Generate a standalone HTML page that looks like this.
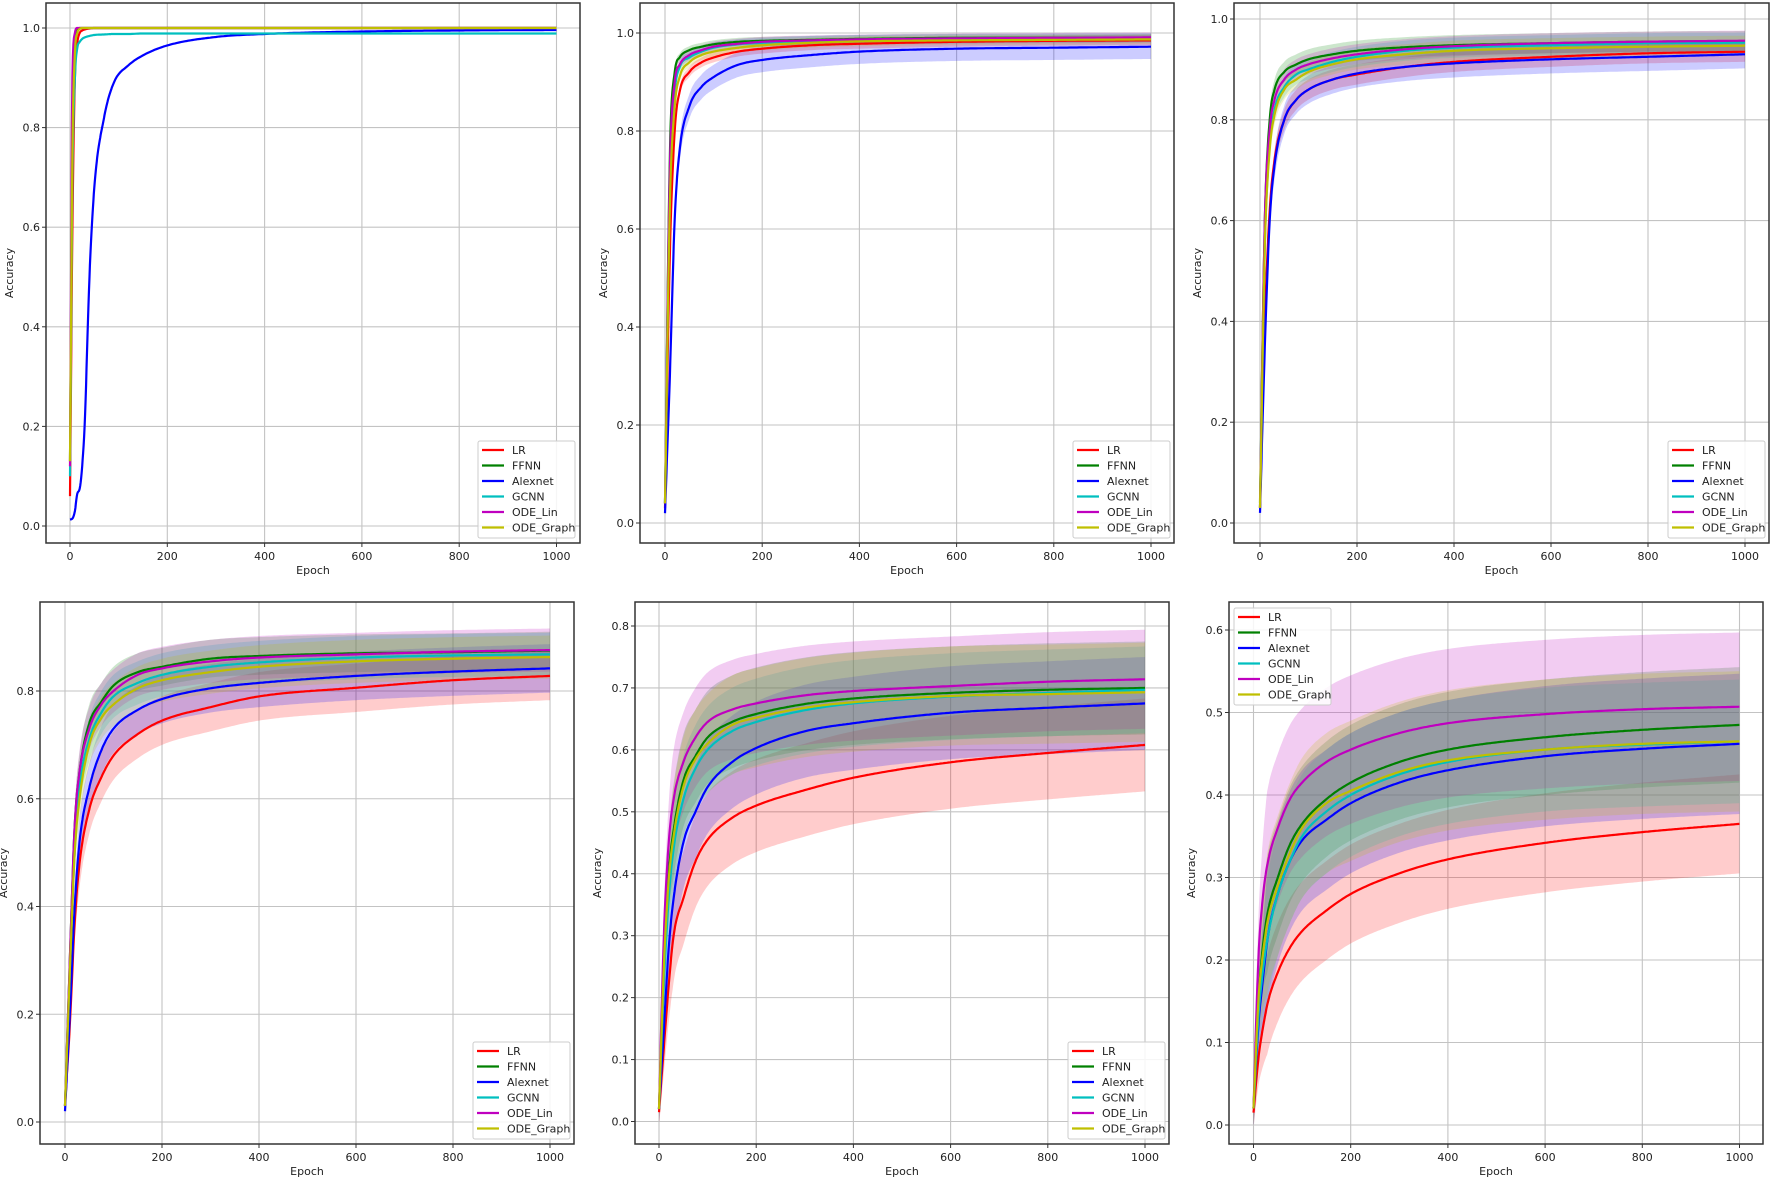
<!DOCTYPE html>
<html><head><meta charset="utf-8">
<style>
html,body{margin:0;padding:0;background:#fff;}
svg{display:block;font-family:"DejaVu Sans","Liberation Sans",sans-serif;}
</style></head>
<body>
<svg id="fig" width="1772" height="1177" viewBox="0 0 1772 1177" xmlns="http://www.w3.org/2000/svg"></svg>
<script>
// ---- data ----
const seriesNames = ["LR","FFNN","Alexnet","GCNN","ODE_Lin","ODE_Graph"];
const seriesColors = ["#ff0000","#008000","#0000ff","#00bfbf","#bf00bf","#bfbf00"];
const epochsA = [0,5,10,15,20,25,30,40,50,70,90,120,150,200,300,400,600,800,1000];
const epochsB = [0,10,20,30,50,75,100,150,200,300,400,600,800,1000];

// panel 1
const p1LR      = [0.06,0.6,0.9,0.97,0.99,0.995,0.997,0.999,1,1,1,1,1,1,1,1,1,1,1];
const p1FFNN    = [0.13,0.8,0.97,0.995,1,1,1,1,1,1,1,1,1,1,1,1,1,1,1];
const p1Alexnet = [0.013,0.015,0.03,0.065,0.075,0.12,0.2,0.5,0.68,0.82,0.89,0.925,0.945,0.965,0.982,0.988,0.993,0.995,0.996];
const p1GCNN    = [0.1,0.7,0.9,0.96,0.972,0.978,0.981,0.984,0.986,0.987,0.988,0.988,0.989,0.989,0.989,0.989,0.989,0.989,0.989];
const p1ODELin  = [0.12,0.9,0.99,1,1,1,1,1,1,1,1,1,1,1,1,1,1,1,1];
const p1ODEGraph= [0.13,0.75,0.95,0.99,0.998,1,1,1,1,1,1,1,1,1,1,1,1,1,1];

// panel 2
const p2LR      = [0.03,0.55,0.8,0.88,0.92,0.94,0.95,0.962,0.968,0.975,0.978,0.982,0.984,0.985];
const p2FFNN    = [0.04,0.75,0.92,0.95,0.965,0.972,0.977,0.982,0.984,0.986,0.988,0.99,0.99,0.99];
const p2Alexnet = [0.02,0.3,0.62,0.76,0.85,0.89,0.91,0.935,0.945,0.955,0.962,0.968,0.97,0.972];
const p2GCNN    = [0.04,0.7,0.88,0.93,0.95,0.962,0.97,0.977,0.98,0.984,0.986,0.988,0.989,0.99];
const p2ODELin  = [0.04,0.72,0.9,0.935,0.955,0.965,0.972,0.978,0.982,0.985,0.987,0.989,0.99,0.991];
const p2ODEGraph= [0.04,0.65,0.85,0.91,0.94,0.955,0.962,0.97,0.975,0.98,0.983,0.985,0.986,0.987];
const p2Std     = [0.01,0.008,0.025,0.01,0.01,0.01];

// panel 3
const p3LR      = [0.03,0.4,0.62,0.72,0.8,0.84,0.86,0.88,0.89,0.905,0.915,0.925,0.932,0.935];
const p3FFNN    = [0.04,0.6,0.8,0.86,0.895,0.91,0.92,0.93,0.937,0.944,0.948,0.952,0.955,0.956];
const p3Alexnet = [0.02,0.35,0.6,0.71,0.8,0.84,0.86,0.88,0.892,0.905,0.912,0.92,0.925,0.93];
const p3GCNN    = [0.03,0.55,0.75,0.82,0.865,0.89,0.9,0.915,0.925,0.937,0.943,0.948,0.952,0.953];
const p3ODELin  = [0.03,0.6,0.78,0.84,0.88,0.9,0.91,0.922,0.93,0.94,0.946,0.952,0.955,0.957];
const p3ODEGraph= [0.03,0.55,0.74,0.81,0.86,0.88,0.895,0.91,0.92,0.93,0.937,0.942,0.945,0.947];
const p3Std     = [0.02,0.02,0.028,0.02,0.02,0.02];

// panel 4
const p4LR      = [0.03,0.18,0.37,0.48,0.58,0.64,0.68,0.72,0.745,0.77,0.79,0.806,0.82,0.828];
const p4FFNN    = [0.03,0.3,0.55,0.65,0.74,0.78,0.81,0.835,0.845,0.86,0.865,0.87,0.872,0.875];
const p4Alexnet = [0.02,0.2,0.4,0.52,0.62,0.69,0.73,0.765,0.785,0.805,0.815,0.828,0.836,0.842];
const p4GCNN    = [0.03,0.28,0.5,0.62,0.71,0.76,0.79,0.815,0.83,0.845,0.853,0.862,0.866,0.868];
const p4ODELin  = [0.03,0.3,0.55,0.65,0.73,0.775,0.8,0.83,0.842,0.855,0.862,0.868,0.873,0.876];
const p4ODEGraph= [0.03,0.28,0.5,0.6,0.7,0.75,0.775,0.805,0.82,0.835,0.845,0.855,0.86,0.863];
const p4Std     = [0.045,0.035,0.045,0.04,0.04,0.04];

// panel 5
const p5LR      = [0.015,0.12,0.22,0.3,0.36,0.42,0.455,0.49,0.51,0.535,0.555,0.58,0.595,0.608];
const p5FFNN    = [0.02,0.25,0.4,0.47,0.55,0.59,0.62,0.645,0.658,0.674,0.683,0.692,0.697,0.7];
const p5Alexnet = [0.02,0.15,0.28,0.36,0.45,0.5,0.54,0.58,0.603,0.63,0.643,0.66,0.668,0.675];
const p5GCNN    = [0.02,0.22,0.36,0.44,0.52,0.57,0.6,0.63,0.645,0.664,0.675,0.686,0.692,0.697];
const p5ODELin  = [0.02,0.3,0.45,0.52,0.58,0.62,0.645,0.665,0.675,0.688,0.695,0.703,0.71,0.714];
const p5ODEGraph= [0.02,0.25,0.39,0.46,0.54,0.585,0.61,0.64,0.652,0.668,0.677,0.687,0.69,0.693];
const p5Std     = [0.075,0.075,0.075,0.07,0.08,0.08];

// panel 6
const p6LR      = [0.015,0.08,0.12,0.15,0.185,0.215,0.235,0.26,0.28,0.305,0.322,0.342,0.355,0.365];
const p6FFNN    = [0.02,0.15,0.22,0.26,0.3,0.34,0.365,0.395,0.415,0.44,0.455,0.47,0.479,0.485];
const p6Alexnet = [0.02,0.12,0.18,0.23,0.28,0.32,0.345,0.37,0.39,0.415,0.43,0.447,0.456,0.462];
const p6GCNN    = [0.02,0.13,0.19,0.23,0.28,0.32,0.35,0.38,0.4,0.425,0.44,0.455,0.461,0.465];
const p6ODELin  = [0.02,0.2,0.28,0.32,0.36,0.395,0.415,0.44,0.455,0.475,0.487,0.498,0.504,0.507];
const p6ODEGraph= [0.02,0.15,0.21,0.25,0.29,0.33,0.36,0.39,0.405,0.428,0.442,0.455,0.462,0.465];
const p6Std     = [0.06,0.07,0.085,0.075,0.09,0.085];

const xTicks = [0,200,400,600,800,1000];
const yTicksA = [0,0.2,0.4,0.6,0.8,1.0];
const yTicksB = [0,0.2,0.4,0.6,0.8];
const yTicksC = [0,0.1,0.2,0.3,0.4,0.5,0.6,0.7,0.8];
const yTicksD = [0,0.1,0.2,0.3,0.4,0.5,0.6];

// ---- layout (pixel geometry) ----
const panels = [
 {name:"panel-1",box:[46,3,580,543],x0:70,x1:556.5,yv0:0,yp0:526,yv1:1,yp1:28,ticks:yTicksA,dec:1,ep:epochsA,
  data:[p1LR,p1FFNN,p1Alexnet,p1GCNN,p1ODELin,p1ODEGraph],std:null,legend:[478,441],ylab:13},
 {name:"panel-2",box:[640,3,1174,543],x0:665,x1:1151,yv0:0,yp0:523,yv1:1,yp1:33,ticks:yTicksA,dec:1,ep:epochsB,
  data:[p2LR,p2FFNN,p2Alexnet,p2GCNN,p2ODELin,p2ODEGraph],std:p2Std,legend:[1073,441],ylab:607},
 {name:"panel-3",box:[1234,3,1769,543],x0:1260,x1:1745,yv0:0,yp0:523,yv1:1,yp1:19,ticks:yTicksA,dec:1,ep:epochsB,
  data:[p3LR,p3FFNN,p3Alexnet,p3GCNN,p3ODELin,p3ODEGraph],std:p3Std,legend:[1668,441],ylab:1201},
 {name:"panel-4",box:[40,602,574,1144],x0:65,x1:550,yv0:0,yp0:1122,yv1:0.8,yp1:691,ticks:yTicksB,dec:1,ep:epochsB,
  data:[p4LR,p4FFNN,p4Alexnet,p4GCNN,p4ODELin,p4ODEGraph],std:p4Std,legend:[473,1042],ylab:7},
 {name:"panel-5",box:[635,602,1169,1144],x0:659,x1:1145,yv0:0,yp0:1121.5,yv1:0.8,yp1:626,ticks:yTicksC,dec:1,ep:epochsB,
  data:[p5LR,p5FFNN,p5Alexnet,p5GCNN,p5ODELin,p5ODEGraph],std:p5Std,legend:[1068,1042],ylab:601},
 {name:"panel-6",box:[1229,602,1763,1144],x0:1253.5,x1:1739.5,yv0:0,yp0:1125,yv1:0.6,yp1:630,ticks:yTicksD,dec:1,ep:epochsB,
  data:[p6LR,p6FFNN,p6Alexnet,p6GCNN,p6ODELin,p6ODEGraph],std:p6Std,legend:[1234,608],ylab:1195}
];

const NS="http://www.w3.org/2000/svg";
const svg=document.getElementById('fig');
function mk(tag,attrs,parent){const e=document.createElementNS(NS,tag);for(const k in attrs)e.setAttribute(k,attrs[k]);(parent||svg).appendChild(e);return e;}

// monotone cubic interpolation
function interp(xs,ys){
  const n=xs.length,d=[],m=new Array(n);
  for(let i=0;i<n-1;i++)d.push((ys[i+1]-ys[i])/(xs[i+1]-xs[i]));
  m[0]=d[0];m[n-1]=d[n-2];
  for(let i=1;i<n-1;i++){m[i]=(d[i-1]*d[i]<=0)?0:(d[i-1]+d[i])/2;}
  for(let i=0;i<n-1;i++){if(d[i]===0){m[i]=0;m[i+1]=0;continue;}const a=m[i]/d[i],b=m[i+1]/d[i],s=a*a+b*b;if(s>9){const t=3/Math.sqrt(s);m[i]=t*a*d[i];m[i+1]=t*b*d[i];}}
  return function(x){let i=0;while(i<n-2&&x>xs[i+1])i++;const h=xs[i+1]-xs[i],t=(x-xs[i])/h,t2=t*t,t3=t2*t;
    return (2*t3-3*t2+1)*ys[i]+(t3-2*t2+t)*h*m[i]+(-2*t3+3*t2)*ys[i+1]+(t3-t2)*h*m[i+1];};
}
const sampleX=[];for(let e=0;e<=1000;e+=(e<100?1:4))sampleX.push(e);
if(sampleX[sampleX.length-1]!==1000)sampleX.push(1000);

panels.forEach((p,pi)=>{
  const g=mk('g',{});
  
  
  const sx=v=>p.x0+(p.x1-p.x0)*v/1000;
  const sy=v=>p.yp0+(p.yp1-p.yp0)*(v-p.yv0)/(p.yv1-p.yv0);
  const [L,T,R,B]=p.box;
  const cid='clip'+pi;
  const cp=mk('clipPath',{id:cid},g);mk('rect',{x:L,y:T,width:R-L,height:B-T},cp);
  const grid=mk('g',{stroke:'#b0b0b0','stroke-width':1.1,opacity:0.75},g);
  
  
  xTicks.forEach(t=>mk('line',{x1:sx(t),x2:sx(t),y1:T,y2:B},grid));
  p.ticks.forEach(t=>mk('line',{x1:L,x2:R,y1:sy(t),y2:sy(t)},grid));
  const plot=mk('g',{'clip-path':`url(#${cid})`},g);
  if(p.std){
    p.data.forEach((ys,si)=>{
      const f=interp(p.ep,ys);
      let up=[],lo=[];
      sampleX.forEach(e=>{const m=f(e);const s=p.std[si]*Math.min(1,0.3+e/40);up.push(sx(e).toFixed(1)+','+sy(m+s).toFixed(1));lo.push(sx(e).toFixed(1)+','+sy(Math.max(0,m-s)).toFixed(1));});
      const band=mk('polygon',{points:up.concat(lo.reverse()).join(' '),fill:seriesColors[si],'fill-opacity':0.2,stroke:'none'},plot);
      
      
    });
  }
  p.data.forEach((ys,si)=>{
    const f=interp(p.ep,ys);
    const pts=sampleX.map(e=>sx(e).toFixed(1)+','+sy(f(e)).toFixed(1)).join(' ');
    const ln=mk('polyline',{points:pts,fill:'none',stroke:seriesColors[si],'stroke-width':2.2,'stroke-linejoin':'round'},plot);
    
    
  });
  const fr=mk('rect',{x:L,y:T,width:R-L,height:B-T,fill:'none',stroke:'#333','stroke-width':1.5},g);
  
  
  const tk=mk('g',{'font-size':11,fill:'#222'},g);
  
  
  xTicks.forEach(t=>{mk('line',{x1:sx(t),x2:sx(t),y1:B,y2:B+4,stroke:'#333'},tk);const tx=mk('text',{x:sx(t),y:B+17,'text-anchor':'middle'},tk);tx.textContent=String(t);});
  p.ticks.forEach(t=>{mk('line',{x1:L-4,x2:L,y1:sy(t),y2:sy(t),stroke:'#333'},tk);const tx=mk('text',{x:L-6,y:sy(t)+4,'text-anchor':'end'},tk);tx.textContent=t.toFixed(p.dec);});
  const xl=mk('text',{x:(L+R)/2,y:B+31,'text-anchor':'middle','font-size':11,fill:'#222'},g);
  xl.textContent='Epoch';
  
  
  const yc=(T+B)/2;
  const yl=mk('text',{x:p.ylab,y:yc,'text-anchor':'middle','font-size':11,fill:'#222',transform:`rotate(-90 ${p.ylab} ${yc})`},g);
  yl.textContent='Accuracy';
  
  
  const [lx,ly]=p.legend;
  const lg=mk('g',{},g);
  
  
  mk('rect',{x:lx,y:ly,width:97,height:97,rx:2,fill:'#fff','fill-opacity':0.85,stroke:'#ccc'},lg);
  seriesNames.forEach((n,si)=>{
    const cy=ly+9+si*15.5;
    const en=mk('g',{},lg);
    
    
    mk('line',{x1:lx+4,x2:lx+26,y1:cy,y2:cy,stroke:seriesColors[si],'stroke-width':2.2},en);
    const t=mk('text',{x:lx+34,y:cy+4,'font-size':11,fill:'#222'},en);t.textContent=n;
  });
});
</script>
</body></html>
